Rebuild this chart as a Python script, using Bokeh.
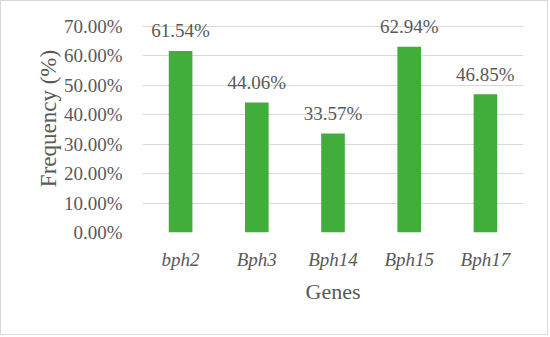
from bokeh.plotting import figure
from bokeh.models import Range1d, FactorRange, FixedTicker, PrintfTickFormatter, ColumnDataSource
from bokeh.core.properties import value
from bokeh.embed import file_html
from bokeh.resources import INLINE

genes = ["bph2", "Bph3", "Bph14", "Bph15", "Bph17"]
freq = [61.54, 44.06, 33.57, 62.94, 46.85]
freq_labels = ["61.54%", "44.06%", "33.57%", "62.94%", "46.85%"]
y_ticks = [0, 10, 20, 30, 40, 50, 60, 70]

FONT = "Liberation Serif"
GREY = "#595959"

src = ColumnDataSource(data=dict(genes=genes, freq=freq, labels=freq_labels))

p = figure(width=548, height=335, output_backend="svg", toolbar_location=None,
           x_range=FactorRange(factors=genes, range_padding=0),
           y_range=Range1d(0, 77.29),
           min_border_left=142, min_border_right=25, min_border_top=4, min_border_bottom=103)
p.outline_line_color = None
p.border_fill_color = None
p.background_fill_color = None
p.styles = {"box-shadow": "inset 0 0 0 1px #d9d9d9", "background-color": "white"}

p.vbar(x="genes", top="freq", width=0.31, source=src, color="#41ad3b", line_color=None)
p.text(x="genes", y="freq", text="labels", source=src, text_align="center",
       text_baseline="middle", y_offset=-20, text_font=value(FONT),
       text_font_size="19px", text_color=GREY)

p.yaxis.ticker = FixedTicker(ticks=y_ticks)
p.yaxis.formatter = PrintfTickFormatter(format="%.2f%%")
p.ygrid.ticker = FixedTicker(ticks=y_ticks)
p.ygrid.grid_line_color = "#d9d9d9"
p.ygrid.grid_line_width = 1
p.xgrid.grid_line_color = None

for ax in (p.xaxis, p.yaxis):
    ax.axis_line_color = None
    ax.major_tick_line_color = None
    ax.minor_tick_line_color = None
    ax.major_tick_out = 0
    ax.major_tick_in = 0
    ax.minor_tick_out = 0
    ax.minor_tick_in = 0
    ax.major_label_text_font = FONT
    ax.major_label_text_font_size = "19px"
    ax.major_label_text_color = GREY
    ax.axis_label_text_font = FONT
    ax.axis_label_text_font_style = "normal"
    ax.axis_label_text_color = GREY

p.yaxis.major_label_standoff = 20
p.yaxis.axis_label = "Frequency (%)"
p.yaxis.axis_label_text_font_size = "23px"
p.yaxis.axis_label_standoff = 0
p.xaxis.major_label_text_font_style = "italic"
p.xaxis.major_label_standoff = 16
p.xaxis.axis_label = "Genes"
p.xaxis.axis_label_text_font_size = "22px"
p.xaxis.axis_label_standoff = 6

open("out.html", "w").write(file_html(p, INLINE))
